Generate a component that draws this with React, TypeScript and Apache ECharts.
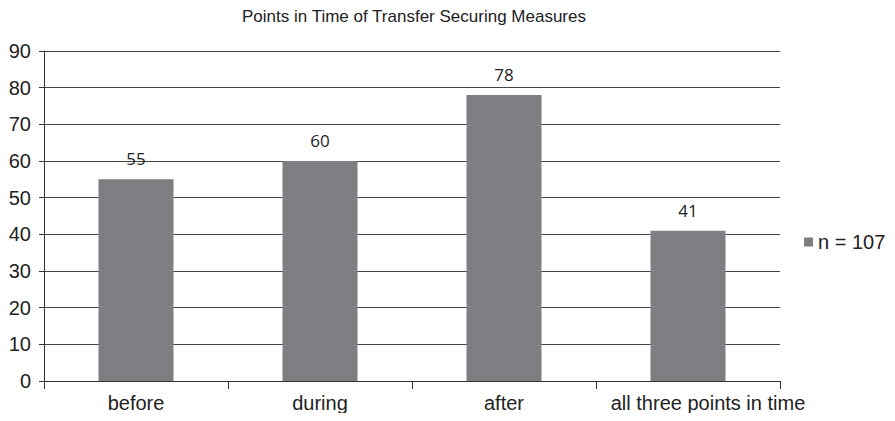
import React, { useEffect, useRef } from "react";
import * as echarts from "echarts";

const categories = ["before", "during", "after", "all three points in time"];
const values = [55, 60, 78, 41];
const seriesName = "n = 107";
const titleText = "Points in Time of Transfer Securing Measures";

export default function App() {
  const ref = useRef<HTMLDivElement>(null);
  useEffect(() => {
    const chart = echarts.init(ref.current!, null, { renderer: "svg" });
    const font = "Liberation Sans, Arial, sans-serif";
    chart.setOption({
      animation: false,
      backgroundColor: "#ffffff",
      title: {
        text: titleText,
        left: 409,
        textAlign: "center",
        top: 3,
        textStyle: { fontFamily: font, fontSize: 17, fontWeight: "normal", color: "#222" },
      },
      legend: {
        orient: "vertical",
        left: 799,
        top: 227,
        itemWidth: 9,
        itemHeight: 9,
        itemGap: 4,
        icon: "rect",
        textStyle: { fontFamily: font, fontSize: 20, color: "#222" },
        data: [seriesName],
      },
      grid: { left: 44, right: 115, top: 51, bottom: 40, containLabel: false },
      xAxis: {
        type: "category",
        data: categories,
        boundaryGap: true,
        axisLine: { lineStyle: { color: "#333", width: 1 } },
        axisTick: { show: true, interval: 0, length: 8, lineStyle: { color: "#333" } },
        axisLabel: {
          interval: 0,
          fontFamily: font,
          fontSize: 20,
          color: "#222",
          margin: 12,
          formatter: (v: string, i: number) => (i === categories.length - 1 ? `{last|${v}}` : v),
          rich: {
            last: { fontFamily: font, fontSize: 20, color: "#222", padding: [0, 0, 0, 40] },
          },
        },
      },
      yAxis: {
        type: "value",
        min: 0,
        max: 90,
        interval: 10,
        axisLine: { show: true, lineStyle: { color: "#333", width: 1 } },
        axisTick: { show: true, length: 5, lineStyle: { color: "#333" } },
        axisLabel: { fontFamily: font, fontSize: 20, color: "#222", margin: 13 },
        splitLine: { lineStyle: { color: "#444", width: 1 } },
      },
      series: [
        {
          name: seriesName,
          type: "bar",
          data: values,
          barWidth: 75,
          itemStyle: { color: "#7f7f83" },
          label: {
            show: true,
            position: "top",
            distance: 12,
            fontFamily: "Open Sans, sans-serif",
            fontSize: 17,
            color: "#222",
          },
        },
      ],
    });
    return () => chart.dispose();
  }, []);
  return <div ref={ref} style={{ width: 895, height: 421, margin: -8 }} />;
}
